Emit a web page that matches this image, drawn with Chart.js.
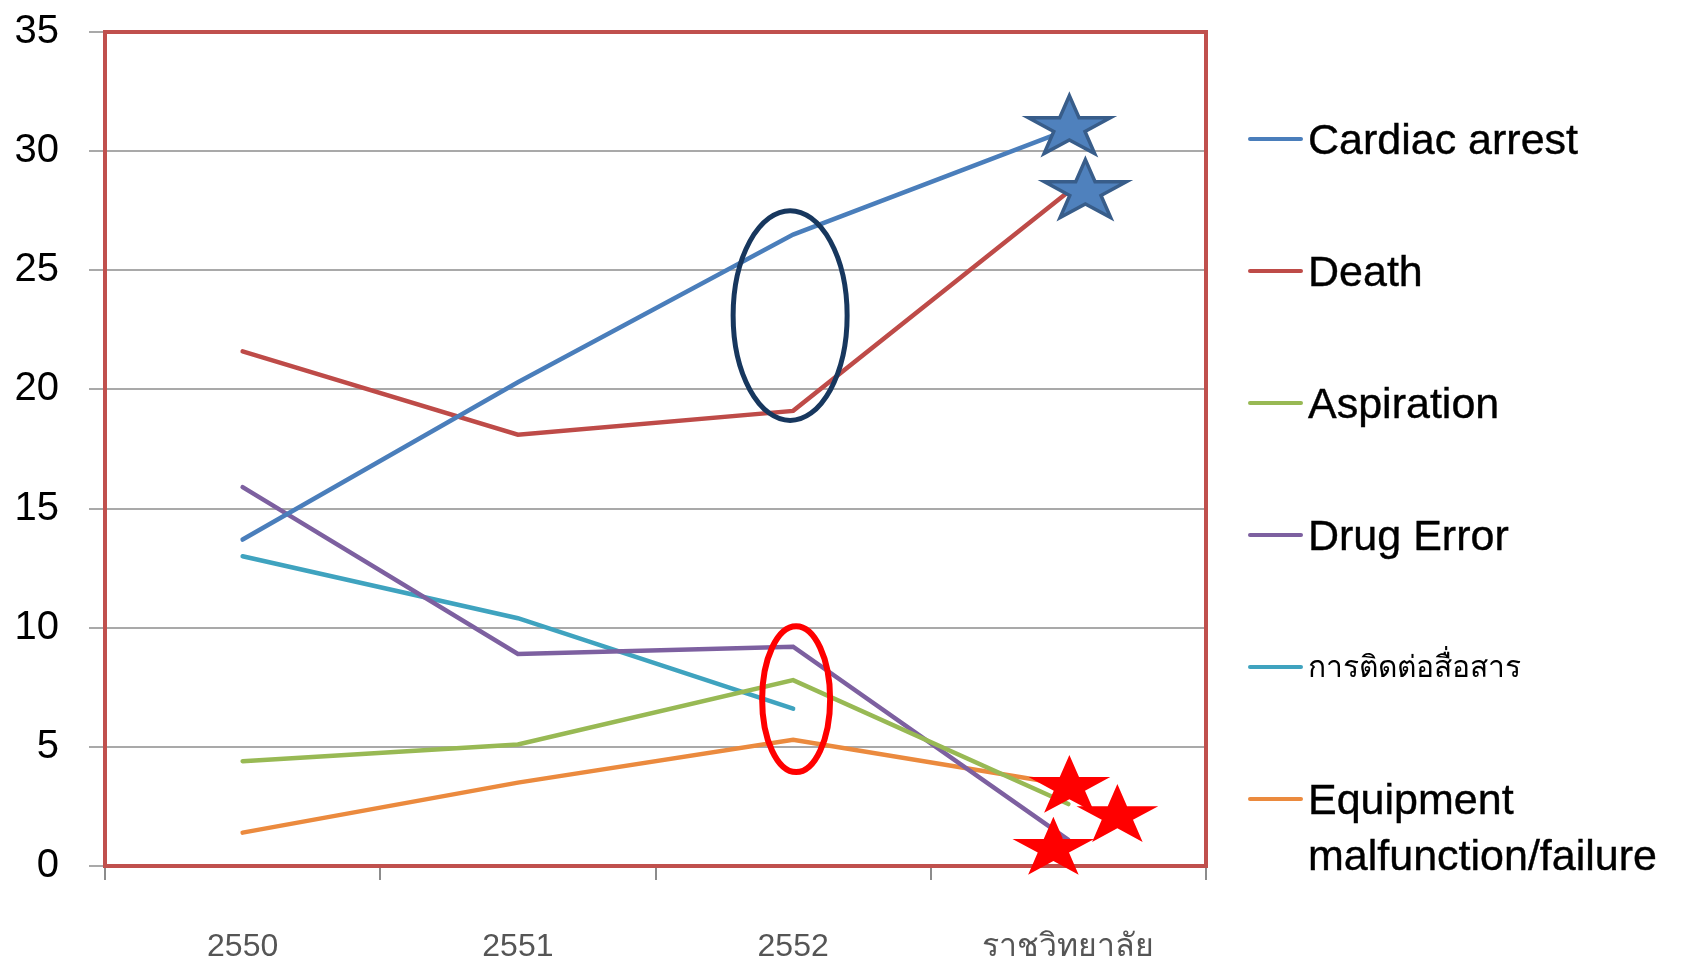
<!DOCTYPE html>
<html>
<head>
<meta charset="utf-8">
<script src="https://cdn.jsdelivr.net/npm/chart.js@4.4.1/dist/chart.umd.min.js"></script>
<style>
  html, body { margin: 0; padding: 0; background: #fff; }
  #wrap { position: relative; width: 1693px; height: 959px; }
  #legend {
    position: absolute; left: 1248px; top: 111px; width: 445px;
    font-family: "Liberation Sans", Arial, sans-serif; font-size: 43px; color: #000;
  }
  .item { display: flex; align-items: flex-start; height: 56px; margin-bottom: 76px; line-height: 56px; }
  .item.two { height: 112px; }
  .swatch { width: 55px; height: 4px; margin-top: 26px; margin-right: 5px; flex: none; border-radius: 2px; }
  .label { width: 380px; -webkit-text-stroke: 0.4px #000; }
  .thai { font-size: 30px; -webkit-text-stroke: 0; }
</style>
</head>
<body>
<div id="wrap">
  <canvas id="chart" width="1693" height="959"></canvas>
  <div id="legend"></div>
</div>
<script>
// categories and series
const categories = ['2550', '2551', '2552', 'ราชวิทยาลัย'];
const cardiacArrest = [13.7, 20.3, 26.5, 30.9];
const death = [21.6, 18.1, 19.1, 28.3];
const aspiration = [4.4, 5.1, 7.8, 2.6];
const drugError = [15.9, 8.9, 9.2, 1.1];
const communication = [13.0, 10.4, 6.6, null];
const equipment = [1.4, 3.5, 5.3, 3.4];

const seriesNames = ['Cardiac arrest', 'Death', 'Aspiration', 'Drug Error', 'การติดต่อสื่อสาร', 'Equipment malfunction/failure'];
const seriesValues = [cardiacArrest, death, aspiration, drugError, communication, equipment];
const seriesColors = ['#4a7ebb', '#be4b48', '#98b954', '#7d60a0', '#3fa3bf', '#eb8a3e'];

const yMin = 0, yMax = 35, yStep = 5;

// hand-drawn highlights on the slide (anchored to data points)
const highlightEllipses = [
  { index: 2, center: 23.1, halfValue: 4.4, halfWidth: 57, dx: -3, color: '#17375e', width: 5 },
  { index: 2, center: 7.0, halfValue: 3.06, halfWidth: 34, dx: 3, color: '#ff0000', width: 6 }
];
const highlightStars = [
  { series: 0, index: 3, dx: 1, dy: -2, fill: '#4f81bd', stroke: '#385d8a' },
  { series: 1, index: 3, dx: 17, dy: 0, fill: '#4f81bd', stroke: '#385d8a' },
  { series: 5, index: 3, dx: 1, dy: 2, fill: '#ff0000' },
  { series: 2, index: 3, dx: 49, dy: 12, fill: '#ff0000' },
  { series: 3, index: 3, dx: -15, dy: 9, fill: '#ff0000' }
];

function starPath(ctx, cx, cy, rx, ry) {
  ctx.beginPath();
  for (let i = 0; i < 10; i++) {
    const r = i % 2 === 0 ? 1 : 0.382;
    const a = -Math.PI / 2 + i * Math.PI / 5;
    const x = cx + Math.cos(a) * rx * r;
    const y = cy + Math.sin(a) * ry * r;
    if (i === 0) ctx.moveTo(x, y); else ctx.lineTo(x, y);
  }
  ctx.closePath();
}

const slideMarks = {
  id: 'slideMarks',
  beforeDatasetsDraw(chart) {
    const { ctx, chartArea: a } = chart;
    ctx.save();
    ctx.strokeStyle = '#c0504d';
    ctx.lineWidth = 4;
    ctx.strokeRect(a.left, a.top, a.right - a.left, a.bottom - a.top);
    ctx.restore();
  },
  afterDatasetsDraw(chart) {
    const { ctx, scales: { x, y } } = chart;
    ctx.save();
    highlightEllipses.forEach(e => {
      const cx = x.getPixelForValue(e.index) + e.dx;
      const cy = y.getPixelForValue(e.center);
      const ry = y.getPixelForValue(e.center - e.halfValue) - cy;
      ctx.beginPath();
      ctx.ellipse(cx, cy, e.halfWidth, ry, 0, 0, Math.PI * 2);
      ctx.strokeStyle = e.color;
      ctx.lineWidth = e.width;
      ctx.stroke();
    });
    highlightStars.forEach(s => {
      const cx = x.getPixelForValue(s.index) + s.dx;
      const cy = y.getPixelForValue(seriesValues[s.series][s.index]) + s.dy;
      starPath(ctx, cx, cy, 43, 32);
      ctx.fillStyle = s.fill;
      ctx.fill();
      if (s.stroke) {
        ctx.strokeStyle = s.stroke;
        ctx.lineWidth = 3.5;
        ctx.lineJoin = 'miter';
        ctx.stroke();
      }
    });
    ctx.restore();
  }
};

const chart = new Chart(document.getElementById('chart'), {
  type: 'line',
  data: {
    labels: categories,
    datasets: seriesNames.map((name, i) => ({
      label: name,
      data: seriesValues[i],
      borderColor: seriesColors[i],
      backgroundColor: seriesColors[i],
      fill: false
    }))
  },
  options: {
    responsive: false,
    animation: false,
    devicePixelRatio: 1,
    layout: { padding: { top: 32, right: 487, left: 0, bottom: 0 } },
    elements: {
      point: { radius: 0, hoverRadius: 0 },
      line: { borderWidth: 4.5, tension: 0, borderCapStyle: 'round' }
    },
    plugins: { legend: { display: false }, tooltip: { enabled: false } },
    scales: {
      x: {
        offset: true,
        grid: { offset: true, drawOnChartArea: false, color: '#8c8c8c', lineWidth: 2, tickLength: 14 },
        border: { display: false },
        ticks: { color: '#555', font: { family: 'Liberation Sans', size: 32 }, padding: 48, maxRotation: 0 },
        afterFit: s => { s.height = 93; }
      },
      y: {
        min: yMin, max: yMax,
        ticks: { stepSize: yStep, color: '#000', font: { family: 'Liberation Sans', size: 40 }, padding: 30 },
        grid: { color: '#a9a9a9', lineWidth: 2, tickLength: 16 },
        border: { display: false },
        afterFit: s => { s.width = 105; s.paddingTop = 0; s.paddingBottom = 0; }
      }
    }
  },
  plugins: [slideMarks]
});

// legend as html so the long label can wrap
const legendEl = document.getElementById('legend');
chart.data.datasets.forEach(ds => {
  const item = document.createElement('div');
  item.className = 'item' + (ds.label.length > 20 ? ' two' : '');
  const sw = document.createElement('span');
  sw.className = 'swatch';
  sw.style.background = ds.borderColor;
  const txt = document.createElement('span');
  txt.className = 'label' + (/[\u0E00-\u0E7F]/.test(ds.label) ? ' thai' : '');
  txt.textContent = ds.label;
  item.appendChild(sw);
  item.appendChild(txt);
  legendEl.appendChild(item);
});
</script>
</body>
</html>
